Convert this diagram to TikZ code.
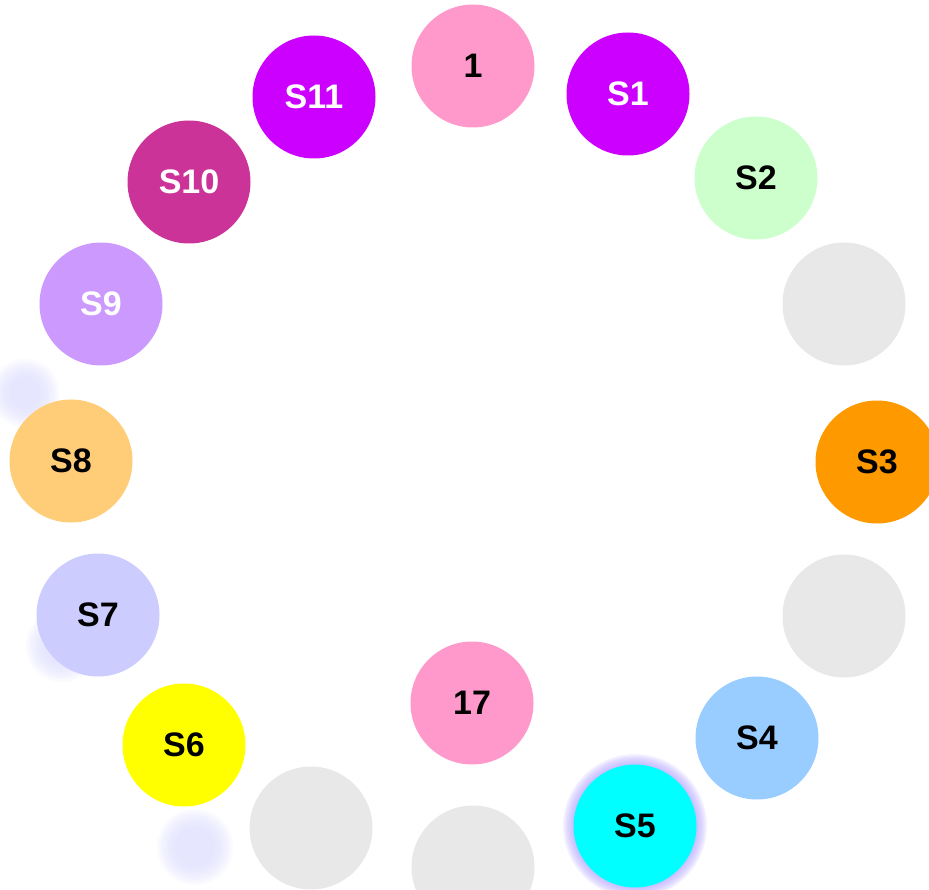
\documentclass[tikz,border=0pt]{standalone}
\usepackage{fontspec}
\setmainfont{Liberation Sans}
\definecolor{pinkc}{HTML}{FF99CC}
\definecolor{violetc}{HTML}{CC00FF}
\definecolor{mintc}{HTML}{CCFFCC}
\definecolor{slotc}{HTML}{E8E8E8}
\definecolor{orangec}{HTML}{FF9900}
\definecolor{skyc}{HTML}{99CCFF}
\definecolor{cyanc}{HTML}{00FFFF}
\definecolor{yellowc}{HTML}{FFFF00}
\definecolor{lavc}{HTML}{CCCCFF}
\definecolor{peachc}{HTML}{FFCC77}
\definecolor{lilacc}{HTML}{CC99FF}
\definecolor{magc}{HTML}{CC3399}
\definecolor{hazec}{HTML}{D8D8FF}
\definecolor{glowc}{HTML}{B0A0FF}
\tikzset{
  ball/.style={circle, minimum size=123pt, inner sep=0pt, font=\fontsize{34}{34}\selectfont\bfseries},
  slot/.style={ball, fill=slotc},
  haze/.style={fill=hazec, fill opacity=0.12},
  glow/.style={fill=glowc, fill opacity=0.12}
}
\begin{document}
\begin{tikzpicture}[x=1pt, y=-1pt]
		\useasboundingbox (0,0) rectangle (929,890);
		\clip (0,0) rectangle (929,890);
		% faint blobs
		\foreach \k in {0,...,7} {
			\fill[haze] (25,393) circle({34-2.5*\k});
			\fill[haze] (62,646) circle({36-2.5*\k});
			\fill[haze] (195,847) circle({38-2.5*\k});
			\fill[glow] (635,826) circle({72-1.3*\k});
		}
		% empty slots
		\foreach \p/\n in {{(844,304)}/g1, {(844,616)}/g2, {(473,867)}/g3, {(311,828)}/g4}
			\node[slot] (\n) at \p {};
		% stations
		\node[ball, fill=pinkc] (n1) at (473,66) {1};
		\node[ball, fill=violetc, text=white] (s1) at (628,94) {S1};
		\node[ball, fill=mintc] (s2) at (756,178) {S2};
		\node[ball, fill=orangec] (s3) at (877,462) {S3};
		\node[ball, fill=skyc] (s4) at (757,738) {S4};
		\node[ball, fill=cyanc] (s5) at (635,826) {S5};
		\node[ball, fill=yellowc] (s6) at (184,745) {S6};
		\node[ball, fill=lavc] (s7) at (98,615) {S7};
		\node[ball, fill=peachc] (s8) at (71,461) {S8};
		\node[ball, fill=lilacc, text=white] (s9) at (101,304) {S9};
		\node[ball, fill=magc, text=white] (s10) at (189,182) {S10};
		\node[ball, fill=violetc, text=white] (s11) at (314,97) {S11};
		\node[ball, fill=pinkc] (n17) at (472,703) {17};
\end{tikzpicture}
\end{document}
